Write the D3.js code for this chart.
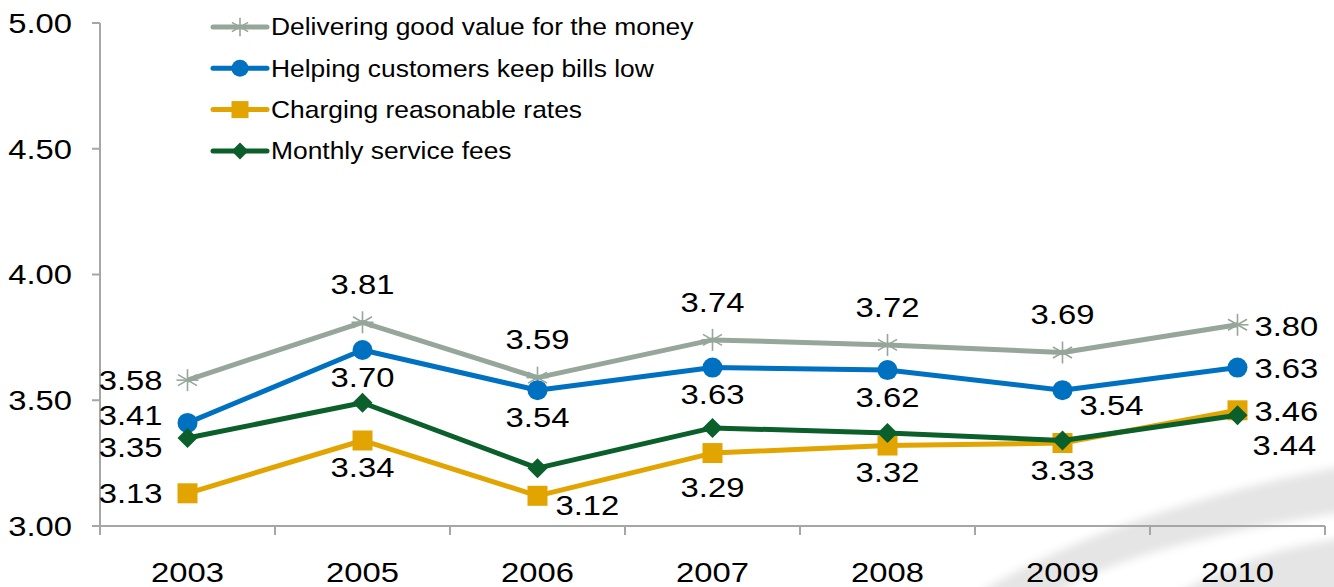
<!DOCTYPE html>
<html>
<head>
<meta charset="utf-8">
<script src="https://cdn.jsdelivr.net/npm/d3@7"></script>
<style>
  html, body { margin: 0; padding: 0; background: #ffffff; }
  svg { display: block; font-family: "Liberation Sans", Arial, sans-serif; }
</style>
</head>
<body>
<svg id="chart" width="1334" height="587"></svg>
<script>
// Survey scores by year
const years = ["2003", "2005", "2006", "2007", "2008", "2009", "2010"];
const valueForMoney   = [3.58, 3.81, 3.59, 3.74, 3.72, 3.69, 3.80];
const billsLow        = [3.41, 3.70, 3.54, 3.63, 3.62, 3.54, 3.63];
const reasonableRates = [3.13, 3.34, 3.12, 3.29, 3.32, 3.33, 3.46];
const serviceFees     = [3.35, 3.49, 3.23, 3.39, 3.37, 3.34, 3.44];
const yTicks = [3.00, 3.50, 4.00, 4.50, 5.00];

const seriesNames = [
  "Delivering good value for the money",
  "Helping customers keep bills low",
  "Charging reasonable rates",
  "Monthly service fees"
];

// where each value label sits relative to its point (null = no label)
const labelPlacement = [
  ["left", "above", "above", "above", "above", "above", "right"],
  ["leftUp", "below", "below", "below", "below", "belowRight", "right"],
  ["left", "below", "rightDown", "belowFar", "below", "below", "right"],
  ["leftDown", null, null, null, null, null, "rightBelow"]
];

const placements = {
  left:       { dx: -25, dy: 0,   anchor: "end" },
  leftUp:     { dx: -25, dy: -8,  anchor: "end" },
  leftDown:   { dx: -25, dy: 9,   anchor: "end" },
  above:      { dx: 0,   dy: -38, anchor: "middle" },
  below:      { dx: 0,   dy: 27,  anchor: "middle" },
  belowFar:   { dx: 0,   dy: 34,  anchor: "middle" },
  belowRight: { dx: 49,  dy: 15,  anchor: "middle" },
  right:      { dx: 17,  dy: 1,   anchor: "start" },
  rightDown:  { dx: 18,  dy: 9,   anchor: "start" },
  rightBelow: { dx: 15,  dy: 30,  anchor: "start" }
};

const series = [
  { name: seriesNames[0], values: valueForMoney,   color: "#96A69A", marker: "asterisk" },
  { name: seriesNames[1], values: billsLow,        color: "#0070C0", marker: "circle" },
  { name: seriesNames[2], values: reasonableRates, color: "#E2A400", marker: "square" },
  { name: seriesNames[3], values: serviceFees,     color: "#0A5F2B", marker: "diamond" }
];

const svg = d3.select("#chart");
const axisColor = "#A6A6A6";
const numSize = 28, numStretch = 1.17;

// soft swoosh in the lower right corner
const defs = svg.append("defs");
defs.append("filter").attr("id", "soft")
  .attr("x", "-20%").attr("y", "-20%").attr("width", "140%").attr("height", "140%")
  .append("feGaussianBlur").attr("stdDeviation", 4);
const wm = svg.append("g").attr("fill", "#000").attr("fill-opacity", 0.1).attr("filter", "url(#soft)");
wm.append("path").attr("d",
  "M975,595 C1050,548 1180,496 1345,466 L1345,512 C1210,532 1100,562 1055,595 Z");
wm.append("path").attr("d",
  "M1175,595 C1230,562 1285,546 1345,538 L1345,595 Z");

const x = d3.scaleBand().domain(years).range([100, 1325]).padding(0);
const cx = d => x(d) + x.bandwidth() / 2;
const y = d3.scaleLinear().domain([3, 5]).range([526, 23]);

function stretchedText(g, px, py, str, anchor, size, sx) {
  return g.append("text")
    .attr("transform", `translate(${px},${py}) scale(${sx},1)`)
    .attr("text-anchor", anchor)
    .attr("dy", "0.35em")
    .style("font-size", size + "px")
    .attr("fill", "#000")
    .text(str);
}

// y axis
const yAxis = svg.append("g");
yAxis.append("line")
  .attr("x1", x.range()[0]).attr("x2", x.range()[0])
  .attr("y1", y(5)).attr("y2", y(3) + 8)
  .attr("stroke", axisColor).attr("stroke-width", 2);
yTicks.forEach(t => {
  yAxis.append("line")
    .attr("x1", x.range()[0] - 8).attr("x2", x.range()[0])
    .attr("y1", y(t)).attr("y2", y(t))
    .attr("stroke", axisColor).attr("stroke-width", 2);
  stretchedText(yAxis, x.range()[0] - 28, y(t), d3.format(".2f")(t), "end", numSize, numStretch);
});

// x axis
const xAxis = svg.append("g");
xAxis.append("line")
  .attr("x1", x.range()[0]).attr("x2", x.range()[1])
  .attr("y1", y(3)).attr("y2", y(3))
  .attr("stroke", axisColor).attr("stroke-width", 2);
const bounds = years.map(d => x(d)).concat([x.range()[1]]);
bounds.forEach(b => {
  xAxis.append("line")
    .attr("x1", b).attr("x2", b)
    .attr("y1", y(3)).attr("y2", y(3) + 9)
    .attr("stroke", axisColor).attr("stroke-width", 2);
});
years.forEach(d => stretchedText(xAxis, cx(d), 572, d, "middle", numSize, numStretch));

// marker drawing
function drawMarker(g, m, color, px, py, scale) {
  const s = scale || 1;
  if (m === "circle") {
    g.append("circle").attr("cx", px).attr("cy", py).attr("r", 10 * s).attr("fill", color);
  } else if (m === "square") {
    const h = 10 * s;
    g.append("rect").attr("x", px - h).attr("y", py - h).attr("width", 2 * h).attr("height", 2 * h).attr("fill", color);
  } else if (m === "diamond") {
    const h = 10 * s;
    g.append("path").attr("d", `M${px},${py - h}L${px + h},${py}L${px},${py + h}L${px - h},${py}Z`).attr("fill", color);
  } else if (m === "asterisk") {
    const r = 11 * s;
    const a = g.append("g").attr("stroke", color).attr("stroke-width", 1.6);
    [90, 30, -30, 0].forEach(deg => {
      const rad = deg * Math.PI / 180;
      const ddx = Math.cos(rad) * r, ddy = Math.sin(rad) * r;
      a.append("line").attr("x1", px - ddx).attr("y1", py - ddy).attr("x2", px + ddx).attr("y2", py + ddy);
    });
  }
}

// lines, markers and labels
const line = d3.line().x((v, i) => cx(years[i])).y(v => y(v));
const plot = svg.append("g");
series.forEach((s, si) => {
  const g = plot.append("g");
  g.append("path")
    .attr("d", line(s.values))
    .attr("fill", "none")
    .attr("stroke", s.color)
    .attr("stroke-width", 5)
    .attr("stroke-linejoin", "round");
  s.values.forEach((v, i) => drawMarker(g, s.marker, s.color, cx(years[i]), y(v)));
});
const labels = svg.append("g");
series.forEach((s, si) => {
  s.values.forEach((v, i) => {
    const p = labelPlacement[si][i];
    if (!p) return;
    const o = placements[p];
    stretchedText(labels, cx(years[i]) + o.dx, y(v) + o.dy, d3.format(".2f")(v), o.anchor, numSize, numStretch);
  });
});

// legend
const legend = svg.append("g");
series.forEach((s, i) => {
  const ly = 27 + i * 41.3;
  legend.append("line")
    .attr("x1", 213).attr("x2", 267).attr("y1", ly).attr("y2", ly)
    .attr("stroke", s.color).attr("stroke-width", 5).attr("stroke-linecap", "round");
  drawMarker(legend, s.marker, s.color, 240, ly, 0.85);
  stretchedText(legend, 271, ly, s.name, "start", 24, 1.1);
});
</script>
</body>
</html>
